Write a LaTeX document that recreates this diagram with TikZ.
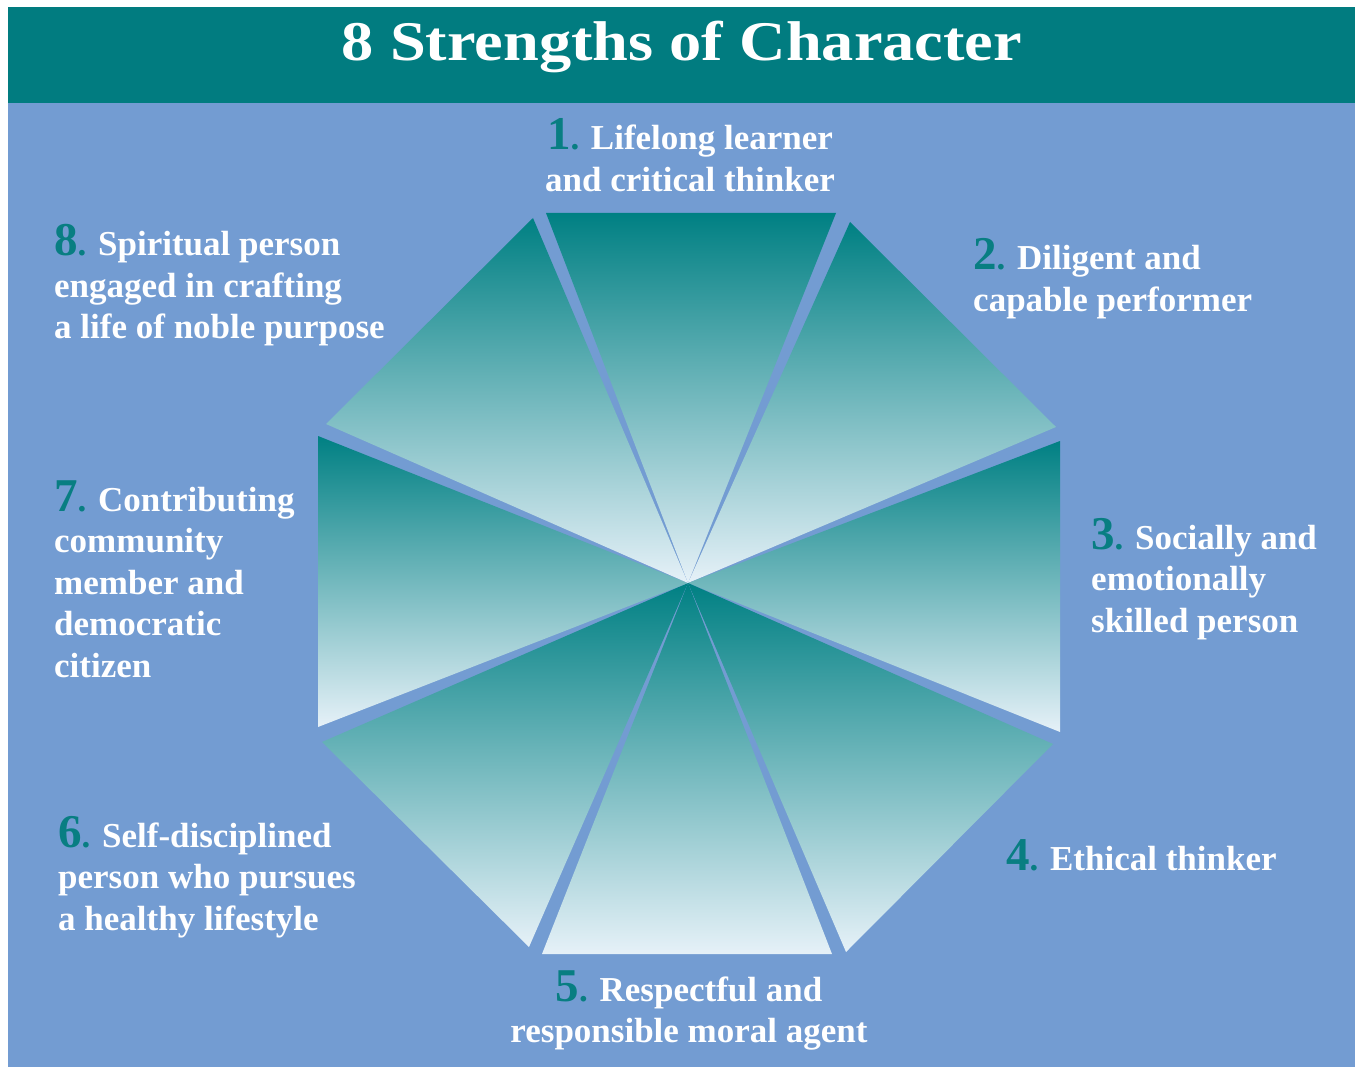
\documentclass[tikz,border=0pt]{standalone}
\usepackage{fontspec}
\setmainfont{Liberation Serif}
\newfontfamily\titlefont[FakeStretch=1.15]{Liberation Serif}
\definecolor{titleteal}{HTML}{017C80}
\definecolor{bgblue}{HTML}{739CD2}
\definecolor{numteal}{HTML}{087E82}
\definecolor{wtop}{HTML}{008083}
\definecolor{wbot}{HTML}{E6F1F8}
\newcommand\lblfont{\fontsize{35}{41.5}\selectfont\bfseries}
\newcommand\nm[1]{{\fontsize{47}{41.5}\selectfont\color{numteal}#1}{\color{numteal}.}}
\tikzset{
  wedge/.style={top color=wtop, bottom color=wbot, draw=none},
  lbl/.style={text=white, inner sep=0pt, font=\lblfont},
  lblw/.style={lbl, anchor=base west},
  lblc/.style={lbl, anchor=base},
}
\begin{document}
\begin{tikzpicture}[x=1pt, y=-1pt]
\useasboundingbox (0,0) rectangle (1355,1067);
\fill[white] (0,0) rectangle (1355,1067);
\fill[bgblue] (8,103) rectangle (1355,1067);
\fill[titleteal] (8,7) rectangle (1355,103);
\node[text=white, inner sep=0pt, anchor=base, font={\titlefont\bfseries\fontsize{56}{60}\selectfont}] (title) at (682,61) {8 Strengths of Character};

\coordinate (C) at (688,583);
\coordinate (w1a) at (546,213);  \coordinate (w1b) at (836,213);
\coordinate (w2a) at (850,222);  \coordinate (w2b) at (1056,427);
\coordinate (w3a) at (1060,441); \coordinate (w3b) at (1060,732);
\coordinate (w4a) at (1053,744); \coordinate (w4b) at (846,952);
\coordinate (w5a) at (832,954);  \coordinate (w5b) at (542,954);
\coordinate (w6a) at (529,947);  \coordinate (w6b) at (322,742);
\coordinate (w7a) at (318,727);  \coordinate (w7b) at (318,436);
\coordinate (w8a) at (326,424);  \coordinate (w8b) at (533,218);
\foreach \i in {1,...,8}{
  \shade[wedge] (C) -- (w\i a) -- (w\i b) -- cycle;
}

\node[lblc] (l1) at (690,150) {\begin{tabular}[t]{@{}c@{}}\nm{1} Lifelong learner\\and critical thinker\end{tabular}};
\node[lblw] (l2) at (973,270) {\begin{tabular}[t]{@{}l@{}}\nm{2} Diligent and\\capable performer\end{tabular}};
\node[lblw] (l3) at (1091,549) {\begin{tabular}[t]{@{}l@{}}\nm{3} Socially and\\emotionally\\skilled person\end{tabular}};
\node[lblw] (l4) at (1006,870) {\begin{tabular}[t]{@{}l@{}}\nm{4} Ethical thinker\end{tabular}};
\node[lblc] (l5) at (689,1001) {\begin{tabular}[t]{@{}c@{}}\nm{5} Respectful and\\responsible moral agent\end{tabular}};
\node[lblw] (l6) at (58,847) {\begin{tabular}[t]{@{}l@{}}\nm{6} Self-disciplined\\person who pursues\\a healthy lifestyle\end{tabular}};
\node[lblw] (l7) at (54,511) {\begin{tabular}[t]{@{}l@{}}\nm{7} Contributing\\community\\member and\\democratic\\citizen\end{tabular}};
\node[lblw] (l8) at (54,256) {\begin{tabular}[t]{@{}l@{}}\nm{8} Spiritual person\\engaged in crafting\\a life of noble purpose\end{tabular}};
\end{tikzpicture}
\end{document}
